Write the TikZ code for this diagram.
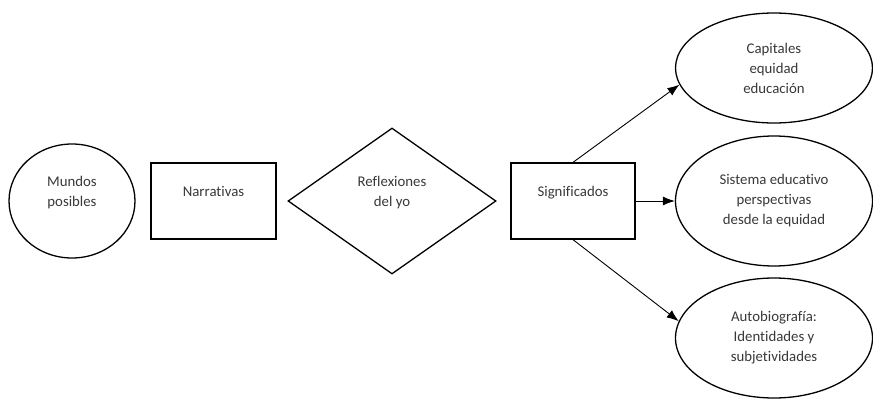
\documentclass[tikz,border=0pt]{standalone}
\usepackage{fontspec}
\setmainfont{Carlito}[Ligatures=NoCommon]
\usetikzlibrary{shapes.geometric,arrows.meta,positioning}

\begin{document}
\begin{tikzpicture}[x=1pt,y=-1pt,node distance=180pt]
\tikzstyle{txt}=[font=\fontsize{14.8}{20}\selectfont,align=center,text=black!78]
\tikzstyle{oval}=[ellipse,txt,draw,line width=1.3pt,inner sep=0pt,
minimum width=197pt]
\tikzstyle{caja}=[rectangle,txt,draw,line width=1.3pt,
minimum width=125pt,minimum height=76pt]
\tikzstyle{rombo}=[diamond,txt,draw,line width=1.3pt,aspect=1.42,
inner sep=0pt,minimum width=208pt,minimum height=146pt]
\tikzstyle{flecha}=[-{Latex[length=12pt,width=9pt]},line width=0.9pt]

\useasboundingbox (0,0) rectangle (873,399);
\node[oval,minimum width=126pt,minimum height=114pt] at (72,201) (mundos) {Mundos\\posibles\\ \mbox{}};
\node[caja,right of =mundos,xshift=-38.5pt](narr) {Narrativas\\ \mbox{}};
\node[rombo,right of =narr,xshift=-1.5pt](refl) {Reflexiones\\del yo\\ \mbox{}};
\node[caja,right of =refl,xshift=1pt,minimum width=124pt](sig) {Significados\\ \mbox{}};
\node[oval,right of =sig,xshift=21pt,minimum height=130pt](sist) {Sistema educativo\\perspectivas\\desde la equidad};
\node[oval,above of =sist,yshift=-47pt,minimum height=110pt](cap) {Capitales\\equidad\\educación};
\node[oval,below of =sist,yshift=43pt,minimum height=120pt](auto) {Autobiografía:\\Identidades y\\subjetividades};

\path[flecha] (sig) edge (sist) ;
\path[flecha] (sig.north) edge (cap.190) ;
\path[flecha] (sig.south) edge (auto.170) ;

\end{tikzpicture}
\end{document}
